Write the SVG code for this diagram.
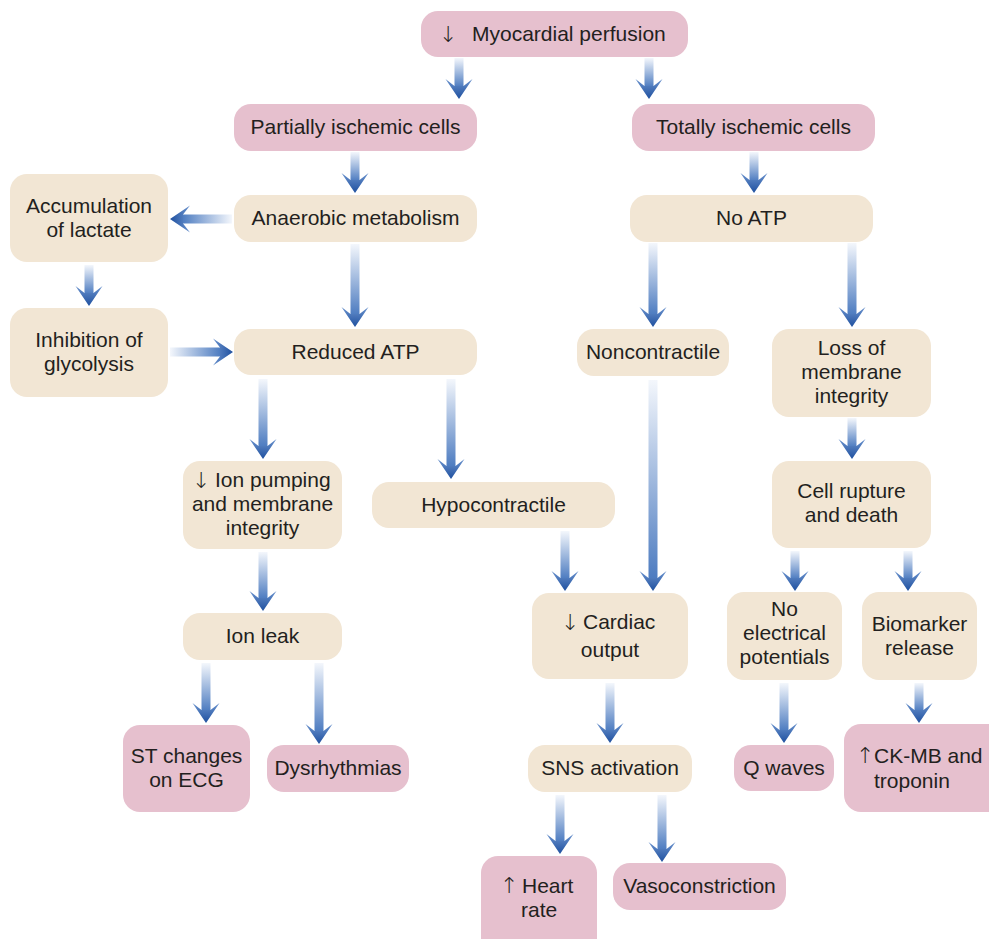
<svg xmlns="http://www.w3.org/2000/svg" xmlns:xlink="http://www.w3.org/1999/xlink" width="989" height="939" viewBox="0 0 989 939">
  <style>
    .pink { fill: #e6c0ce; }
    .tan { fill: #f2e6d4; }
    text { font-family: "Liberation Sans", Arial, sans-serif; font-size: 21px; fill: #231f20; }
    text.arr { font-family: "DejaVu Sans", sans-serif; font-size: 22px; font-weight: 200; }
    .c { text-anchor: middle; }
    .shaftV { fill: url(#gShaftV); }
    .shaftR { fill: url(#gShaftR); }
    .shaftL { fill: url(#gShaftL); }
  </style>
  <defs>
    <linearGradient id="gShaftV" x1="0" y1="0" x2="0" y2="1">
      <stop offset="0" stop-color="#f4f7fc"/>
      <stop offset="1" stop-color="#4c7bc0"/>
    </linearGradient>
    <linearGradient id="gShaftR" x1="0" y1="0" x2="1" y2="0">
      <stop offset="0" stop-color="#f4f7fc"/>
      <stop offset="1" stop-color="#4c7bc0"/>
    </linearGradient>
    <linearGradient id="gShaftL" x1="1" y1="0" x2="0" y2="0">
      <stop offset="0" stop-color="#f4f7fc"/>
      <stop offset="1" stop-color="#4c7bc0"/>
    </linearGradient>
    <linearGradient id="gHead" x1="0" y1="0" x2="0" y2="1">
      <stop offset="0" stop-color="#6a92cd"/>
      <stop offset="1" stop-color="#1f509f"/>
    </linearGradient>
    <!-- arrowhead pointing down, tip at the origin -->
    <path id="hd" d="M0,0 L-13.5,-20 L-4.5,-13 L4.5,-13 L13.5,-20 Z" fill="url(#gHead)"/>
  </defs>

  <!-- connectors -->
  <g id="connectors">
    <g><rect class="shaftV" x="454.5" y="58" width="9" height="29"/><use xlink:href="#hd" x="459" y="99"/></g>
    <g><rect class="shaftV" x="644.5" y="58" width="9" height="29"/><use xlink:href="#hd" x="649" y="99"/></g>
    <g><rect class="shaftV" x="350.5" y="152" width="9" height="29"/><use xlink:href="#hd" x="355" y="193"/></g>
    <g><rect class="shaftV" x="749.5" y="152" width="9" height="29"/><use xlink:href="#hd" x="754" y="193"/></g>
    <g><rect class="shaftV" x="84.5" y="265" width="9" height="29"/><use xlink:href="#hd" x="89" y="306"/></g>
    <g><rect class="shaftV" x="350.5" y="244" width="9" height="71"/><use xlink:href="#hd" x="355" y="327"/></g>
    <g><rect class="shaftV" x="648.5" y="243" width="9" height="72"/><use xlink:href="#hd" x="653" y="327"/></g>
    <g><rect class="shaftV" x="847.5" y="243" width="9" height="72"/><use xlink:href="#hd" x="852" y="327"/></g>
    <g><rect class="shaftV" x="258.5" y="379" width="9" height="68"/><use xlink:href="#hd" x="263" y="459"/></g>
    <g><rect class="shaftV" x="446.5" y="379" width="9" height="88"/><use xlink:href="#hd" x="451" y="479"/></g>
    <g><rect class="shaftV" x="847.5" y="418" width="9" height="29"/><use xlink:href="#hd" x="852" y="459"/></g>
    <g><rect class="shaftV" x="258.5" y="552" width="9" height="47"/><use xlink:href="#hd" x="263" y="611"/></g>
    <g><rect class="shaftV" x="560.5" y="531" width="9" height="48"/><use xlink:href="#hd" x="565" y="591"/></g>
    <g><rect class="shaftV" x="648.5" y="380" width="9" height="199"/><use xlink:href="#hd" x="653" y="591"/></g>
    <g><rect class="shaftV" x="790.5" y="551" width="9" height="28"/><use xlink:href="#hd" x="795" y="591"/></g>
    <g><rect class="shaftV" x="903.5" y="551" width="9" height="28"/><use xlink:href="#hd" x="908" y="591"/></g>
    <g><rect class="shaftV" x="201.5" y="663" width="9" height="48"/><use xlink:href="#hd" x="206" y="723"/></g>
    <g><rect class="shaftV" x="314.5" y="663" width="9" height="69"/><use xlink:href="#hd" x="319" y="744"/></g>
    <g><rect class="shaftV" x="605.5" y="683" width="9" height="48"/><use xlink:href="#hd" x="610" y="743"/></g>
    <g><rect class="shaftV" x="779.5" y="683" width="9" height="48"/><use xlink:href="#hd" x="784" y="743"/></g>
    <g><rect class="shaftV" x="914.5" y="683" width="9" height="28"/><use xlink:href="#hd" x="919" y="723"/></g>
    <g><rect class="shaftV" x="555.5" y="795" width="9" height="47"/><use xlink:href="#hd" x="560" y="854"/></g>
    <g><rect class="shaftV" x="657.5" y="795" width="9" height="55"/><use xlink:href="#hd" x="662" y="862"/></g>
    <!-- horizontal: anaerobic metabolism to lactate, glycolysis to reduced ATP -->
    <g><rect class="shaftL" x="182" y="214.5" width="50" height="9"/><use xlink:href="#hd" transform="translate(170,219) rotate(90)"/></g>
    <g><rect class="shaftR" x="170" y="347.5" width="51" height="9"/><use xlink:href="#hd" transform="translate(233,352) rotate(-90)"/></g>
  </g>

  <!-- nodes -->
  <g id="myocardial-perfusion">
    <rect class="pink" x="421" y="11" width="267" height="46" rx="17"/>
    <text class="c arr" x="448" y="42">↓</text>
    <text x="472" y="41">Myocardial perfusion</text>
  </g>
  <g id="partially-ischemic">
    <rect class="pink" x="234" y="104" width="243" height="47" rx="17"/>
    <text class="c" x="355.5" y="134">Partially ischemic cells</text>
  </g>
  <g id="totally-ischemic">
    <rect class="pink" x="632" y="104" width="243" height="47" rx="17"/>
    <text class="c" x="753.5" y="134">Totally ischemic cells</text>
  </g>
  <g id="lactate">
    <rect class="tan" x="10" y="174" width="158" height="88" rx="17"/>
    <text class="c" x="89" y="213">Accumulation</text>
    <text class="c" x="89" y="237">of lactate</text>
  </g>
  <g id="anaerobic">
    <rect class="tan" x="234" y="195" width="243" height="47" rx="17"/>
    <text class="c" x="355.5" y="225">Anaerobic metabolism</text>
  </g>
  <g id="no-atp">
    <rect class="tan" x="630" y="195" width="243" height="47" rx="17"/>
    <text class="c" x="751.5" y="225">No ATP</text>
  </g>
  <g id="glycolysis">
    <rect class="tan" x="10" y="308" width="158" height="89" rx="17"/>
    <text class="c" x="89" y="347">Inhibition of</text>
    <text class="c" x="89" y="371">glycolysis</text>
  </g>
  <g id="reduced-atp">
    <rect class="tan" x="234" y="329" width="243" height="46" rx="17"/>
    <text class="c" x="355.5" y="359">Reduced ATP</text>
  </g>
  <g id="noncontractile">
    <rect class="tan" x="577" y="329" width="152" height="47" rx="17"/>
    <text class="c" x="653" y="359">Noncontractile</text>
  </g>
  <g id="membrane-loss">
    <rect class="tan" x="772" y="329" width="159" height="88" rx="17"/>
    <text class="c" x="851.5" y="355">Loss of</text>
    <text class="c" x="851.5" y="379">membrane</text>
    <text class="c" x="851.5" y="403">integrity</text>
  </g>
  <g id="ion-pumping">
    <rect class="tan" x="183" y="461" width="159" height="88" rx="17"/>
    <text class="c arr" x="201" y="488">↓</text>
    <text x="215" y="487">Ion pumping</text>
    <text class="c" x="262.5" y="511">and membrane</text>
    <text class="c" x="262.5" y="535">integrity</text>
  </g>
  <g id="hypocontractile">
    <rect class="tan" x="372" y="482" width="243" height="46" rx="17"/>
    <text class="c" x="493.5" y="512">Hypocontractile</text>
  </g>
  <g id="cell-rupture">
    <rect class="tan" x="772" y="461" width="159" height="87" rx="17"/>
    <text class="c" x="851.5" y="498">Cell rupture</text>
    <text class="c" x="851.5" y="522">and death</text>
  </g>
  <g id="ion-leak">
    <rect class="tan" x="183" y="613" width="159" height="47" rx="17"/>
    <text class="c" x="262.5" y="643">Ion leak</text>
  </g>
  <g id="cardiac-output">
    <rect class="tan" x="532" y="593" width="156" height="86" rx="17"/>
    <text class="c arr" x="570" y="630">↓</text>
    <text x="583" y="629">Cardiac</text>
    <text class="c" x="610" y="657">output</text>
  </g>
  <g id="no-electrical">
    <rect class="tan" x="727" y="592" width="115" height="88" rx="17"/>
    <text class="c" x="784.5" y="616">No</text>
    <text class="c" x="784.5" y="640">electrical</text>
    <text class="c" x="784.5" y="664">potentials</text>
  </g>
  <g id="biomarker">
    <rect class="tan" x="862" y="592" width="115" height="88" rx="17"/>
    <text class="c" x="919.5" y="631">Biomarker</text>
    <text class="c" x="919.5" y="655">release</text>
  </g>
  <g id="st-changes">
    <rect class="pink" x="123" y="725" width="127" height="87" rx="17"/>
    <text class="c" x="186.5" y="763">ST changes</text>
    <text class="c" x="186.5" y="787">on ECG</text>
  </g>
  <g id="dysrhythmias">
    <rect class="pink" x="267" y="745" width="142" height="47" rx="17"/>
    <text class="c" x="338" y="775">Dysrhythmias</text>
  </g>
  <g id="sns">
    <rect class="tan" x="528" y="745" width="164" height="47" rx="17"/>
    <text class="c" x="610" y="775">SNS activation</text>
  </g>
  <g id="q-waves">
    <rect class="pink" x="734" y="745" width="100" height="46" rx="17"/>
    <text class="c" x="784" y="775">Q waves</text>
  </g>
  <g id="ck-mb">
    <rect class="pink" x="844" y="724" width="165" height="88" rx="17"/>
    <text class="c arr" x="865" y="763">↑</text>
    <text x="874" y="763">CK-MB and</text>
    <text x="874" y="788">troponin</text>
  </g>
  <g id="heart-rate">
    <rect class="pink" x="481" y="856" width="116" height="100" rx="17"/>
    <text class="c arr" x="509" y="893">↑</text>
    <text x="522" y="893">Heart</text>
    <text x="521" y="917">rate</text>
  </g>
  <g id="vasoconstriction">
    <rect class="pink" x="613" y="863" width="173" height="47" rx="17"/>
    <text class="c" x="699.5" y="893">Vasoconstriction</text>
  </g>
</svg>
